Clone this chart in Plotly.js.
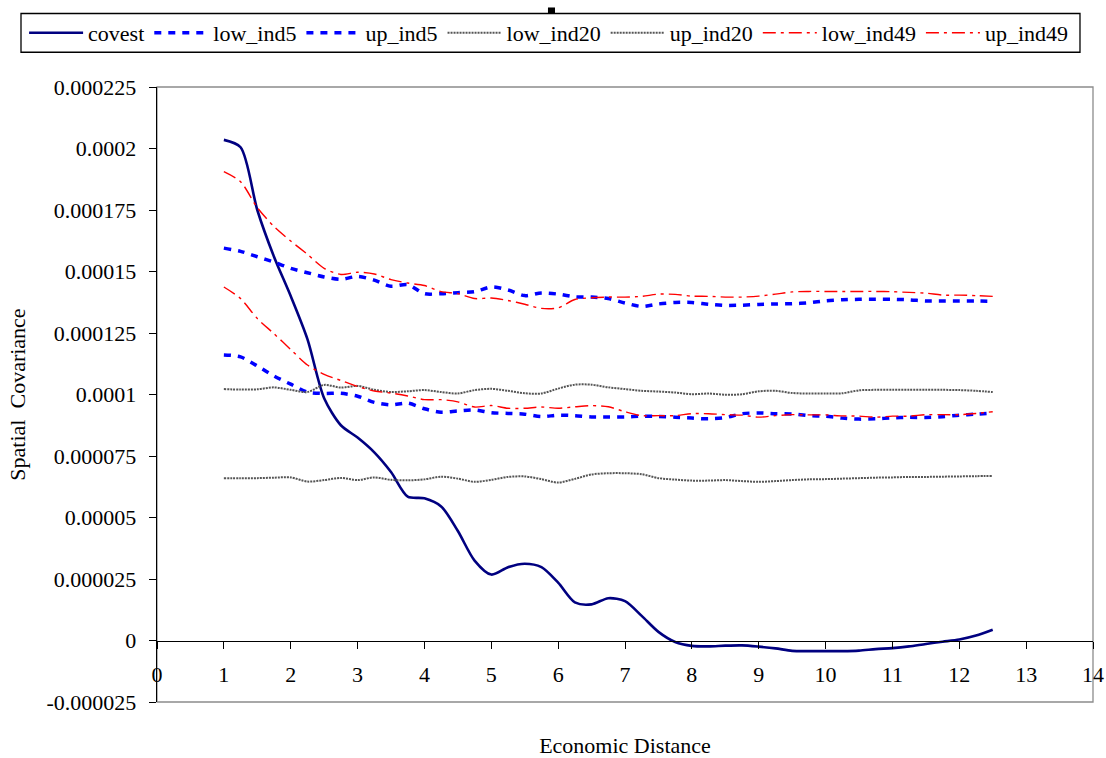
<!DOCTYPE html>
<html>
<head>
<meta charset="utf-8">
<script src="https://cdn.plot.ly/plotly-3.0.1.min.js"></script>
<style>
  html, body { margin: 0; padding: 0; background: #ffffff; }
  #chart { width: 1106px; height: 758px; }
</style>
</head>
<body>
<div id="chart"></div>
<script>
// Economic distance at which each covariance estimate is evaluated
const distance = [1, 1.25, 1.5, 1.75, 2, 2.25, 2.5, 2.75, 3, 3.25, 3.5, 3.75, 4, 4.25, 4.5, 4.75,
  5, 5.25, 5.5, 5.75, 6, 6.25, 6.5, 6.75, 7, 7.25, 7.5, 7.75, 8, 8.25, 8.5, 8.75,
  9, 9.25, 9.5, 9.75, 10, 10.25, 10.5, 10.75, 11, 11.25, 11.5, 11.75, 12, 12.25, 12.5];

// Estimated spatial covariance
const covest = [203.5e-6, 200.5e-6, 175.0e-6, 156.0e-6, 140.0e-6, 122.5e-6, 98.5e-6, 87.5e-6,
  82.5e-6, 76.5e-6, 68.5e-6, 58.5e-6, 57.8e-6, 54.5e-6, 44.5e-6, 32.5e-6,
  26.8e-6, 29.8e-6, 31.2e-6, 29.8e-6, 23.5e-6, 15.5e-6, 14.7e-6, 17.2e-6,
  16.0e-6, 10.0e-6, 3.5e-6, -0.6e-6, -2.2e-6, -2.4e-6, -2.1e-6, -2.0e-6,
  -2.5e-6, -3.2e-6, -4.2e-6, -4.3e-6, -4.3e-6, -4.3e-6, -4.1e-6, -3.5e-6,
  -3.1e-6, -2.4e-6, -1.4e-6, -0.5e-6, 0.4e-6, 2.0e-6, 4.4e-6];

// Confidence bands, 5 industries
const lowInd5 = [116.1e-6, 115.3e-6, 111.6e-6, 107.5e-6, 104.2e-6, 101.0e-6, 100.4e-6, 100.5e-6,
  99.3e-6, 96.8e-6, 95.8e-6, 96.5e-6, 94.2e-6, 92.8e-6, 93.3e-6, 93.7e-6,
  92.6e-6, 92.3e-6, 92.0e-6, 91.0e-6, 91.6e-6, 91.4e-6, 90.9e-6, 90.9e-6,
  90.9e-6, 91.2e-6, 91.1e-6, 90.8e-6, 90.4e-6, 90.1e-6, 90.6e-6, 92.2e-6,
  92.5e-6, 92.2e-6, 92.1e-6, 91.4e-6, 91.2e-6, 90.4e-6, 90.0e-6, 90.1e-6,
  90.5e-6, 90.7e-6, 90.7e-6, 91.0e-6, 91.6e-6, 92.0e-6, 92.5e-6];
const upInd5 = [159.5e-6, 158.2e-6, 156.0e-6, 153.8e-6, 151.3e-6, 149.5e-6, 147.8e-6, 146.8e-6,
  148.0e-6, 146.5e-6, 144.0e-6, 144.7e-6, 141.0e-6, 141.0e-6, 141.4e-6, 141.8e-6,
  143.7e-6, 142.5e-6, 140.2e-6, 141.3e-6, 140.8e-6, 139.7e-6, 139.6e-6, 139.0e-6,
  137.2e-6, 135.8e-6, 136.8e-6, 137.4e-6, 137.4e-6, 136.7e-6, 136.2e-6, 136.3e-6,
  136.6e-6, 136.8e-6, 136.9e-6, 137.3e-6, 138.1e-6, 138.5e-6, 138.7e-6, 138.7e-6,
  138.7e-6, 138.5e-6, 138.0e-6, 138.0e-6, 138.0e-6, 138.0e-6, 137.9e-6];

// Confidence bands, 20 industries
const lowInd20 = [66.0e-6, 66.0e-6, 66.0e-6, 66.2e-6, 66.3e-6, 64.6e-6, 65.2e-6, 66.1e-6,
  65.2e-6, 66.3e-6, 65.3e-6, 65.1e-6, 65.5e-6, 66.6e-6, 65.8e-6, 64.5e-6,
  65.3e-6, 66.5e-6, 66.7e-6, 65.6e-6, 64.2e-6, 65.7e-6, 67.5e-6, 68.0e-6,
  68.0e-6, 67.6e-6, 66.0e-6, 65.4e-6, 65.0e-6, 65.0e-6, 65.2e-6, 64.8e-6,
  64.5e-6, 64.8e-6, 65.2e-6, 65.5e-6, 65.6e-6, 65.8e-6, 66.0e-6, 66.2e-6,
  66.3e-6, 66.5e-6, 66.5e-6, 66.6e-6, 66.7e-6, 66.8e-6, 66.9e-6];
const upInd20 = [102.2e-6, 102.0e-6, 102.1e-6, 102.9e-6, 101.9e-6, 101.0e-6, 103.9e-6, 102.8e-6,
  103.5e-6, 101.9e-6, 101.0e-6, 101.3e-6, 101.8e-6, 101.0e-6, 100.4e-6, 101.8e-6,
  102.3e-6, 101.5e-6, 100.5e-6, 100.4e-6, 102.4e-6, 104.0e-6, 104.0e-6, 102.9e-6,
  102.2e-6, 101.5e-6, 101.2e-6, 100.8e-6, 100.1e-6, 100.4e-6, 99.9e-6, 100.1e-6,
  101.3e-6, 101.5e-6, 100.6e-6, 100.4e-6, 100.4e-6, 100.5e-6, 101.7e-6, 101.9e-6,
  101.9e-6, 101.9e-6, 101.9e-6, 101.9e-6, 101.8e-6, 101.5e-6, 101.0e-6];

// Confidence bands, 49 industries
const lowInd49 = [143.7e-6, 139.0e-6, 130.9e-6, 124.7e-6, 118.3e-6, 112.0e-6, 108.2e-6, 105.7e-6,
  103.3e-6, 101.4e-6, 100.6e-6, 99.4e-6, 97.9e-6, 97.9e-6, 97.0e-6, 94.9e-6,
  95.5e-6, 94.4e-6, 94.4e-6, 94.9e-6, 94.4e-6, 95.0e-6, 95.5e-6, 95.0e-6,
  93.0e-6, 91.4e-6, 91.4e-6, 91.4e-6, 92.2e-6, 92.2e-6, 91.8e-6, 91.6e-6,
  90.8e-6, 91.4e-6, 91.8e-6, 91.7e-6, 91.7e-6, 91.3e-6, 91.2e-6, 90.8e-6,
  91.2e-6, 91.2e-6, 91.8e-6, 91.8e-6, 91.8e-6, 92.3e-6, 93.0e-6];
const upInd49 = [190.6e-6, 186.5e-6, 176.0e-6, 168.3e-6, 162.4e-6, 157.0e-6, 151.3e-6, 148.8e-6,
  149.7e-6, 149.0e-6, 146.7e-6, 145.3e-6, 144.3e-6, 141.8e-6, 141.0e-6, 139.0e-6,
  139.2e-6, 138.2e-6, 136.7e-6, 135.0e-6, 135.2e-6, 138.6e-6, 139.3e-6, 139.6e-6,
  139.6e-6, 139.9e-6, 140.8e-6, 140.7e-6, 140.0e-6, 139.9e-6, 139.6e-6, 139.6e-6,
  140.0e-6, 140.8e-6, 141.7e-6, 141.9e-6, 141.9e-6, 141.9e-6, 141.9e-6, 141.9e-6,
  141.8e-6, 141.5e-6, 141.2e-6, 140.4e-6, 140.4e-6, 140.2e-6, 139.9e-6];

// Axis ticks
const xTicks = [0, 1, 2, 3, 4, 5, 6, 7, 8, 9, 10, 11, 12, 13, 14];
const yTickVals = [-0.000025, 0, 0.000025, 0.00005, 0.000075, 0.0001, 0.000125, 0.00015, 0.000175, 0.0002, 0.000225];
const yTickText = ['-0.000025', '0', '0.000025', '0.00005', '0.000075', '0.0001', '0.000125', '0.00015', '0.000175', '0.0002', '0.000225'];

const serif = "'Liberation Serif', 'Times New Roman', serif";
const textFont = { family: serif, size: 22, color: '#000000' };

function series(name, y, line) {
  return {
    type: 'scatter', mode: 'lines', name: name,
    x: distance, y: y,
    line: Object.assign({ shape: 'spline', smoothing: 0.8 }, line)
  };
}

const traces = [
  series('covest', covest, { color: '#000080', width: 2.6 }),
  series('low_ind5', lowInd5, { color: '#0000ff', width: 3.5, dash: '7px,7px' }),
  series('up_ind5', upInd5, { color: '#0000ff', width: 3.5, dash: '7px,7px' }),
  series('low_ind20', lowInd20, { color: '#555555', width: 2, dash: '2px,1px' }),
  series('up_ind20', upInd20, { color: '#555555', width: 2, dash: '2px,1px' }),
  series('low_ind49', lowInd49, { color: '#ff0000', width: 1.4, dash: '13px,5px,3px,5px' }),
  series('up_ind49', upInd49, { color: '#ff0000', width: 1.4, dash: '13px,5px,3px,5px' })
];

const yRange = [-0.000025, 0.000225];

const layout = {
  width: 1106, height: 758,
  margin: { l: 157, r: 13, t: 83, b: 56, pad: 0 },
  paper_bgcolor: '#ffffff', plot_bgcolor: '#ffffff',
  font: textFont,
  showlegend: true,
  legend: {
    orientation: 'h', x: -0.142, xanchor: 'left', y: 1.088, yanchor: 'middle',
    bgcolor: 'rgba(0,0,0,0)', borderwidth: 0, itemwidth: 54,
    font: textFont, traceorder: 'normal'
  },
  xaxis: {
    range: [0, 14], anchor: 'free', position: 0.1,
    tickvals: xTicks, ticktext: xTicks.map(String),
    ticks: 'outside', ticklen: 7, tickwidth: 1, tickcolor: '#000000',
    ticklabelstandoff: 7,
    showline: true, linecolor: '#000000', linewidth: 1.3,
    showgrid: false, zeroline: false,
    tickfont: textFont,
    title: { text: 'Economic Distance', standoff: 59, font: textFont }
  },
  xaxis2: {
    range: [0, 14], overlaying: 'x', anchor: 'free', position: 0.1,
    tickvals: xTicks, ticks: 'inside', ticklen: 7, tickwidth: 1, tickcolor: '#000000',
    showticklabels: false, showline: false, showgrid: false, zeroline: false
  },
  yaxis: {
    range: yRange,
    tickvals: yTickVals, ticktext: yTickText,
    ticks: 'outside', ticklen: 7, tickwidth: 1, tickcolor: '#000000',
    ticklabelstandoff: 8,
    showline: true, linecolor: '#000000', linewidth: 1.3,
    showgrid: false, zeroline: false,
    tickfont: textFont,
    title: { text: 'Spatial  Covariance', standoff: 14, font: textFont }
  },
  yaxis2: {
    range: yRange, overlaying: 'y', anchor: 'x',
    tickvals: yTickVals, ticks: 'inside', ticklen: 7, tickwidth: 1, tickcolor: '#000000',
    showticklabels: false, showline: false, showgrid: false, zeroline: false
  },
  shapes: [
    // plot area frame
    { type: 'rect', xref: 'paper', yref: 'paper', x0: 0, x1: 1, y0: 0, y1: 1,
      line: { color: '#8c8c8c', width: 1.3 }, fillcolor: 'rgba(0,0,0,0)', layer: 'below' },
    // legend frame
    { type: 'rect', xref: 'paper', yref: 'paper', x0: -0.1453, x1: 0.9861, y0: 1.0565, y1: 1.1195,
      line: { color: '#000000', width: 1.3 }, fillcolor: 'rgba(0,0,0,0)' },
    // clipped title fragment above the legend
    { type: 'rect', xref: 'paper', yref: 'paper', x0: 0.4177, x1: 0.4252, y0: 1.1196, y1: 1.1293,
      line: { width: 0 }, fillcolor: '#000000' }
  ]
};

Plotly.newPlot('chart', traces, layout, { displayModeBar: false, staticPlot: true });
</script>
</body>
</html>
